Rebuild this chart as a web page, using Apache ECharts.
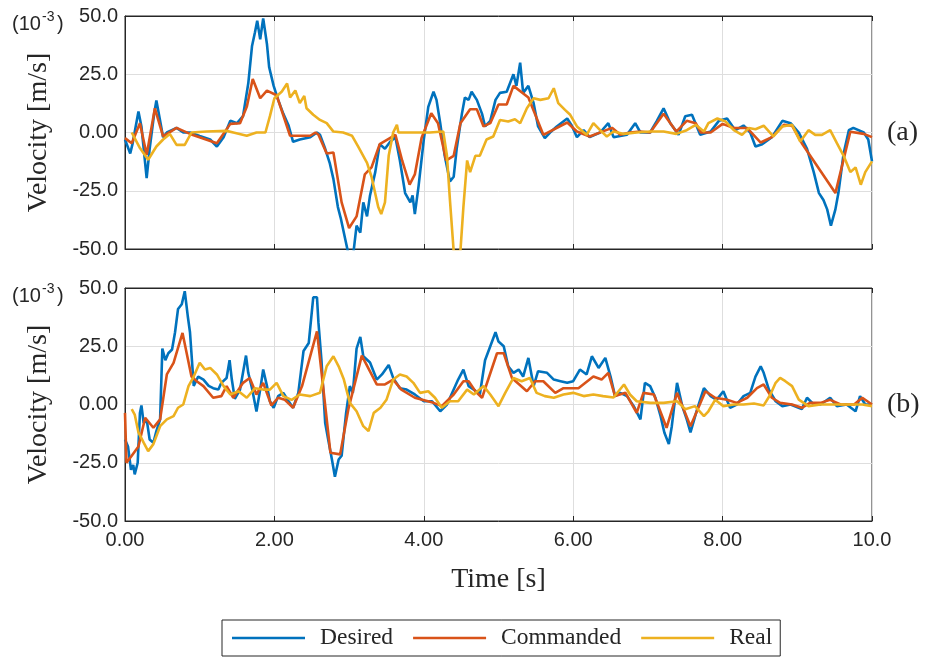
<!DOCTYPE html>
<html>
<head>
<meta charset="utf-8">
<script src="https://cdn.jsdelivr.net/npm/echarts@6/dist/echarts.min.js"></script>
<style>
  html, body { margin: 0; padding: 0; background: #fff; }
  #chart { width: 925px; height: 660px; }
</style>
</head>
<body>
<div id="chart"></div>
<script>
// [time s, velocity x1e-3 m/s]
const desiredA = [[0,-3],[0.07,-9],[0.1,-5],[0.18,9],[0.22,2.6],[0.29,-19.6],[0.33,-7],[0.39,8],[0.42,13.7],[0.47,5],[0.51,-2],[0.56,0],[0.69,2],[0.78,0],[0.87,0],[1.0,-1.5],[1.14,-3],[1.23,-6],[1.32,-2],[1.41,5],[1.5,4],[1.58,7],[1.65,21],[1.70,37],[1.74,43],[1.77,48],[1.81,40],[1.85,49],[1.90,38],[1.93,28],[1.99,20],[2.05,14],[2.12,8],[2.19,3],[2.25,-4],[2.34,-3],[2.48,-2],[2.57,0],[2.61,-1],[2.68,-7],[2.74,-13],[2.79,-20],[2.85,-32],[2.89,-37],[2.95,-46],[2.99,-52],[3.06,-51],[3.10,-40],[3.15,-43],[3.19,-30],[3.24,-36],[3.28,-27],[3.35,-17],[3.41,-5],[3.48,-7],[3.55,-4],[3.62,-2],[3.68,-12],[3.75,-26],[3.82,-30],[3.85,-27],[3.88,-35],[3.93,-23],[4.0,-3],[4.06,11],[4.13,17.5],[4.17,14],[4.22,4],[4.28,-10],[4.35,-21],[4.40,-19],[4.44,-7],[4.51,8],[4.55,15],[4.60,14],[4.64,17.5],[4.71,14],[4.78,8],[4.82,2.6],[4.89,5],[4.96,14],[5.02,17],[5.11,17.5],[5.20,25],[5.24,20],[5.29,30],[5.33,17],[5.40,20],[5.47,12.6],[5.53,2.6],[5.62,-2.4],[5.69,0],[5.78,2.6],[5.92,6],[5.98,3],[6.05,-2],[6.14,1],[6.22,-2],[6.36,0],[6.47,4],[6.54,-2],[6.72,-1],[6.83,4],[6.90,0],[7.03,0],[7.12,5],[7.21,10.4],[7.30,4],[7.41,-1],[7.50,7],[7.59,7.6],[7.70,-1],[7.84,0.4],[7.95,5],[8.06,6],[8.17,1],[8.28,3],[8.37,0],[8.44,-6],[8.53,-5],[8.66,-2],[8.80,5],[8.91,4],[9.02,0],[9.13,-7],[9.22,-17],[9.29,-26],[9.35,-29],[9.40,-33],[9.45,-40],[9.51,-33],[9.55,-26],[9.62,-9],[9.69,1],[9.75,2],[9.89,0],[9.95,-3],[10,-12.4]];
const commandedA = [[0,-2.4],[0.09,-4.6],[0.2,4],[0.29,-9.6],[0.40,10.4],[0.51,-1.7],[0.69,2],[0.87,-0.6],[1.23,-4.6],[1.41,3.7],[1.54,4],[1.63,11],[1.71,23],[1.81,14.7],[1.90,18],[2.03,16],[2.21,-1.4],[2.48,-1.4],[2.55,0],[2.59,-1],[2.70,-9],[2.79,-8.6],[2.90,-30],[3.0,-41],[3.10,-36],[3.21,-18],[3.30,-15],[3.41,-5],[3.62,-1],[3.71,-12],[3.81,-22.4],[3.88,-18],[3.97,-2.4],[4.10,8.3],[4.19,4],[4.30,-12],[4.40,-10],[4.49,4],[4.62,10],[4.71,10],[4.80,2.6],[4.89,4],[5.0,12],[5.11,12],[5.20,20],[5.40,15],[5.60,-1],[5.92,4.3],[6.05,0.4],[6.22,-1.7],[6.52,2],[6.63,-1],[6.76,0],[6.90,0.4],[7.03,0],[7.21,8],[7.38,0.4],[7.52,5],[7.64,4],[7.71,0],[7.84,0],[8.0,3.7],[8.15,1.9],[8.33,1.9],[8.51,-4.3],[8.66,-2],[8.82,3.3],[8.93,2.9],[9.06,-4.6],[9.51,-26],[9.71,0.3],[9.89,-0.6],[10,-2]];
const realA = [[0.09,0],[0.2,-6.7],[0.31,-11.7],[0.42,-6],[0.51,-3],[0.6,-0.6],[0.69,-5.3],[0.80,-5.3],[0.89,0],[1.09,0.4],[1.36,0.7],[1.45,0],[1.63,-1.4],[1.76,0],[1.88,0],[1.94,7],[2.0,14.7],[2.10,17.6],[2.17,21],[2.21,15],[2.28,18],[2.34,12.6],[2.40,15.7],[2.43,10.4],[2.52,7.6],[2.61,5.4],[2.70,4],[2.79,0.4],[2.92,0],[3.04,-1.4],[3.12,-6],[3.24,-13],[3.30,-19],[3.39,-32],[3.43,-35],[3.48,-30],[3.53,-10],[3.59,0],[3.64,3.3],[3.66,0],[3.86,0],[4.08,0],[4.26,0.4],[4.31,-10],[4.35,-29],[4.40,-51],[4.49,-51],[4.53,-32],[4.58,-12],[4.62,-17],[4.69,-10],[4.75,-10],[4.84,-3],[4.93,-1.7],[5.02,5.4],[5.13,4.7],[5.22,5.7],[5.29,4],[5.38,10.4],[5.47,14.7],[5.56,14],[5.67,14.7],[5.74,19],[5.80,12.6],[5.89,9.7],[5.96,7.6],[6.05,2.6],[6.18,-1],[6.27,4],[6.36,1],[6.45,-1.7],[6.54,0.4],[6.68,-0.6],[6.85,0],[7.03,0.4],[7.21,0.4],[7.38,-0.6],[7.52,1],[7.64,3.3],[7.75,0.4],[7.81,4],[7.93,6],[8.04,4.7],[8.15,1],[8.26,-1],[8.35,1.9],[8.44,1.4],[8.55,2.9],[8.68,-1.7],[8.80,2.6],[8.93,3.3],[9.04,-3.9],[9.15,1],[9.24,-1],[9.33,-1],[9.44,1],[9.53,-4.6],[9.62,-10],[9.71,-17],[9.78,-15],[9.85,-22.4],[9.91,-17],[10,-12.4]];

const desiredB = [[0,-15],[0.04,-18],[0.08,-28],[0.11,-26],[0.13,-30],[0.17,-25],[0.2,-3.6],[0.22,-0.4],[0.25,-8],[0.29,-6.4],[0.33,-15],[0.38,-16.4],[0.42,-11.4],[0.47,-6.4],[0.50,24],[0.54,19],[0.58,22],[0.63,23.6],[0.67,31],[0.71,41],[0.76,43],[0.80,48.6],[0.84,38],[0.87,31],[0.92,8],[0.98,12],[1.05,10.7],[1.12,8],[1.18,7],[1.25,6.4],[1.29,9.3],[1.36,11.4],[1.40,19],[1.43,10.7],[1.47,2.4],[1.54,6.4],[1.62,21],[1.65,13.6],[1.70,7],[1.76,-3],[1.81,6.4],[1.85,15],[1.90,8],[1.94,1.4],[1.99,-1.4],[2.05,3.6],[2.12,5],[2.19,1.4],[2.25,-1.4],[2.32,5],[2.39,23],[2.46,26.4],[2.52,46],[2.57,46],[2.59,35],[2.63,19],[2.68,-8],[2.72,-15],[2.77,-23.6],[2.81,-31],[2.86,-23.6],[2.90,-22],[2.96,-3.6],[3.01,7.9],[3.05,5],[3.10,24],[3.15,29],[3.19,20.7],[3.28,18],[3.37,10.7],[3.44,12.9],[3.53,17],[3.59,11.4],[3.68,7],[3.77,6.4],[3.88,4.3],[4.0,1.4],[4.11,1.4],[4.22,-2.9],[4.31,0],[4.40,6.4],[4.46,10.7],[4.53,15],[4.60,7.9],[4.67,6.4],[4.75,4.3],[4.82,19],[4.89,25],[4.96,31],[5.0,27],[5.07,25],[5.13,16.4],[5.20,13.6],[5.27,15],[5.33,12],[5.40,20],[5.47,7.9],[5.53,14.3],[5.65,13.6],[5.74,10.7],[5.83,10],[5.92,9.3],[6.0,10],[6.09,15],[6.18,12.9],[6.25,20.7],[6.34,15.7],[6.43,20],[6.50,12],[6.56,3.6],[6.63,5],[6.72,3.6],[6.81,-0.7],[6.90,-6.4],[6.96,9.3],[7.03,7.9],[7.10,2.9],[7.17,-5],[7.22,-12],[7.28,-17],[7.32,-9.3],[7.39,9.3],[7.46,-0.7],[7.52,-6.4],[7.57,-12],[7.66,-2],[7.75,7],[7.84,3.6],[7.92,2],[8.01,5.7],[8.10,-1.4],[8.19,0],[8.28,3.6],[8.37,5],[8.44,12],[8.51,16.4],[8.55,13.6],[8.62,6.4],[8.71,1.4],[8.80,-0.7],[8.91,0],[9.06,-2],[9.13,2.9],[9.22,0],[9.31,0],[9.44,2.9],[9.53,-0.7],[9.66,0],[9.78,-2.9],[9.84,3.6],[9.91,0],[10,0]];
const commandedB = [[0,-3.6],[0.02,-25],[0.09,-22],[0.18,-18],[0.27,-5.7],[0.38,-10],[0.47,-6.4],[0.56,12.9],[0.65,17.9],[0.77,30.7],[0.89,12],[0.96,10],[1.05,7.9],[1.18,2.9],[1.29,3.6],[1.36,7.9],[1.45,2.9],[1.58,9.3],[1.67,11.4],[1.76,4.3],[1.85,9.3],[1.96,-0.4],[2.05,2.9],[2.14,2],[2.25,-1.4],[2.37,7.9],[2.57,31.4],[2.75,-20.7],[2.88,-21.4],[2.99,-2],[3.17,21],[3.37,8.6],[3.48,8.6],[3.59,10.7],[3.70,6.4],[3.88,2.9],[4.13,0.7],[4.24,-0.7],[4.40,4.3],[4.53,10],[4.60,10],[4.69,5.7],[4.78,2.9],[4.98,22],[5.07,22],[5.18,11.4],[5.38,5.7],[5.49,10],[5.60,10],[5.76,5],[5.87,7],[6.07,7],[6.27,12],[6.38,10.7],[6.47,13.6],[6.56,3.6],[6.70,5],[6.85,-3.6],[6.94,5],[7.08,4.3],[7.25,-10],[7.39,5],[7.57,-9.3],[7.77,5.7],[7.90,2.9],[8.06,2],[8.19,0.7],[8.33,2.9],[8.46,7],[8.55,8.6],[8.66,2.9],[8.77,0.7],[8.93,0],[9.06,-1.4],[9.17,0.7],[9.31,0.7],[9.44,2],[9.58,0],[9.76,0],[9.87,2.9],[10,0]];
const realB = [[0.09,-2],[0.13,-4.3],[0.18,-12],[0.25,-16.4],[0.31,-20],[0.38,-17],[0.47,-9.3],[0.56,-6.4],[0.65,-5],[0.71,-1.4],[0.78,0],[0.85,7.9],[0.92,12],[1.0,17.9],[1.07,15],[1.14,15.7],[1.23,12.9],[1.32,7.9],[1.41,4.3],[1.52,5.7],[1.63,2.9],[1.74,7],[1.85,6.4],[1.94,6.4],[2.03,9.3],[2.12,3.6],[2.23,2],[2.34,4.3],[2.48,3.6],[2.61,5],[2.70,16.4],[2.79,20.7],[2.86,16.4],[2.93,10.7],[3.01,0.7],[3.10,-2.9],[3.19,-9.3],[3.26,-11.4],[3.33,-3.6],[3.42,-1.4],[3.50,2],[3.59,10.7],[3.68,12.9],[3.77,12],[3.86,9.3],[3.95,5],[4.06,5.7],[4.15,2.9],[4.24,-1.4],[4.35,1.4],[4.46,1.4],[4.58,6.4],[4.67,4.3],[4.80,7.9],[4.89,4.3],[5.0,-0.7],[5.09,5],[5.20,11.4],[5.31,10],[5.42,11.4],[5.51,5],[5.62,3.6],[5.74,2.9],[5.87,4.3],[6.0,5],[6.14,3.6],[6.27,4.3],[6.40,3.6],[6.54,3],[6.68,8.6],[6.76,4.3],[6.85,1.4],[7.03,0.7],[7.21,0.7],[7.39,1.4],[7.50,-2],[7.63,-0.7],[7.75,-5],[7.81,-2.9],[7.90,2],[8.01,-0.7],[8.15,0],[8.28,0],[8.42,0.4],[8.55,-0.4],[8.64,4.3],[8.71,9.3],[8.77,11.4],[8.84,10],[8.93,7.9],[9.02,2.1],[9.15,-0.7],[9.31,0],[9.48,0],[9.66,0],[9.87,0],[10,-0.7]];

const seriesNames = ["Desired", "Commanded", "Real"];
const colors = ["#0072BD", "#D95319", "#EDB120"];

const chart = echarts.init(document.getElementById("chart"));

const ink = "#262626";
const sans = "Liberation Sans";
const serif = "Liberation Serif";

function xAxisFor(grid, pos, labels) {
  return {
    type: "value", gridIndex: grid, position: pos,
    min: 0, max: 10, interval: 2,
    axisLine: { show: true, onZero: false, lineStyle: { color: ink } },
    axisTick: { show: true, inside: true, length: 5, lineStyle: { color: ink } },
    axisLabel: { show: labels, color: ink, fontFamily: sans, fontSize: 20, margin: 9,
      formatter: v => v.toPrecision(3) },
    splitLine: { show: pos === "bottom", lineStyle: { color: "#dedede" } }
  };
}

function yAxisFor(grid) {
  return {
    type: "value", gridIndex: grid,
    min: -50, max: 50, interval: 25,
    name: "Velocity [m/s]", nameLocation: "middle", nameGap: 72,
    nameTextStyle: { fontFamily: serif, fontSize: 28, color: ink },
    axisLine: { show: true, onZero: false, lineStyle: { color: ink } },
    axisTick: { show: false },
    axisLabel: { color: ink, fontFamily: sans, fontSize: 20, margin: 7,
      formatter: v => v.toPrecision(3) },
    splitLine: { show: true, lineStyle: { color: "#dedede" } }
  };
}

function line(i, data, axis) {
  return {
    name: seriesNames[i], type: "line", data: data,
    xAxisIndex: axis, yAxisIndex: axis,
    showSymbol: false, symbol: "none", animation: false,
    lineStyle: { width: 2.6, color: colors[i] },
    itemStyle: { color: colors[i] }
  };
}

const xAxes = [xAxisFor(0, "bottom", false), xAxisFor(1, "bottom", true),
  xAxisFor(0, "top", false), xAxisFor(1, "top", false)];
xAxes[1].name = "Time [s]";
xAxes[1].nameLocation = "middle";
xAxes[1].nameGap = 45;
xAxes[1].nameTextStyle = { fontFamily: serif, fontSize: 28, color: ink };

function expo(y) {
  return [
    { type: "text", left: 12, top: y, style: { text: "(10", font: "20px " + sans, fill: ink } },
    { type: "text", left: 42, top: y - 4, style: { text: "-3", font: "14px " + sans, fill: ink } },
    { type: "text", left: 57, top: y, style: { text: ")", font: "20px " + sans, fill: ink } }
  ];
}

const option = {
  backgroundColor: "#fff",
  animation: false,
  grid: [
    { left: 125, right: 53, top: 16, height: 233, show: true, borderColor: ink, borderWidth: 1 },
    { left: 125, right: 53, top: 288, height: 233, show: true, borderColor: ink, borderWidth: 1 }
  ],
  xAxis: xAxes,
  yAxis: [yAxisFor(0), yAxisFor(1)],
  legend: {
    data: seriesNames.map((n, i) => ({ name: n, icon: "rect", itemStyle: { color: colors[i] } })),
    left: 222, top: 620,
    orient: "horizontal", itemWidth: 73, itemHeight: 2.6, itemGap: 20,
    padding: [6, 8, 6, 10],
    borderColor: ink, borderWidth: 1,
    textStyle: { fontFamily: serif, fontSize: 23.5, color: ink, padding: [0, 0, 0, 10] }
  },
  graphic: [
    ...expo(14), ...expo(286),
    { type: "text", left: 887, top: 119, style: { text: "(a)", font: "28px " + serif, fill: ink } },
    { type: "text", left: 887, top: 391, style: { text: "(b)", font: "28px " + serif, fill: ink } }
  ],
  series: [
    line(0, desiredA, 0), line(1, commandedA, 0), line(2, realA, 0),
    line(0, desiredB, 1), line(1, commandedB, 1), line(2, realB, 1)
  ]
};

chart.setOption(option);
</script>
</body>
</html>
